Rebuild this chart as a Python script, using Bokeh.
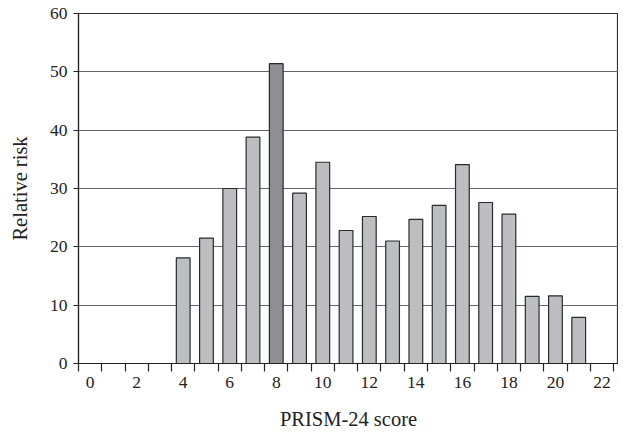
from bokeh.plotting import figure
from bokeh.models import FixedTicker, ColumnDataSource, Range1d
from bokeh.embed import file_html
from bokeh.resources import INLINE

# Data
scores = [4, 5, 6, 7, 8, 9, 10, 11, 12, 13, 14, 15, 16, 17, 18, 19, 20, 21]
relative_risk = [18.1, 21.5, 30.0, 38.8, 51.4, 29.2, 34.5, 22.8, 25.2, 21.0,
                 24.7, 27.1, 34.1, 27.6, 25.6, 11.5, 11.6, 7.9]
highlight_score = 8
x_tick_labels = [0, 2, 4, 6, 8, 10, 12, 14, 16, 18, 20, 22]
y_ticks = [0, 10, 20, 30, 40, 50, 60]

LIGHT = "#bdbec2"
DARK = "#8e8f93"
fills = [DARK if s == highlight_score else LIGHT for s in scores]

src = ColumnDataSource(dict(x=scores, top=relative_risk, fill=fills))

FONT = "Liberation Serif"

p = figure(width=618, height=433, output_backend="svg", toolbar_location=None,
           x_range=Range1d(-0.5, 22.71), y_range=Range1d(0, 60),
           min_border_left=78, min_border_right=0, min_border_top=13,
           min_border_bottom=70)

p.vbar(x="x", top="top", bottom=0, width=0.59, source=src,
       fill_color="fill", line_color="#2a2a2a", line_width=1.2)

p.background_fill_color = "white"
p.border_fill_color = "white"
p.outline_line_color = "#333333"
p.outline_line_width = 1.2

# x axis: labels at even categories, ticks at category boundaries
p.xaxis.ticker = FixedTicker(ticks=x_tick_labels,
                             minor_ticks=[i - 0.5 for i in range(24)])
p.xaxis.major_tick_line_color = None
p.xaxis.major_tick_out = 8
p.xaxis.major_tick_in = 0
p.xaxis.minor_tick_out = 8
p.xaxis.minor_tick_in = 0
p.xaxis.minor_tick_line_color = "#222222"
p.xaxis.minor_tick_line_width = 1.2
p.xaxis.major_label_standoff = 5
p.xaxis.axis_label = "PRISM-24 score"
p.xaxis.axis_label_standoff = 17

# y axis
p.yaxis.ticker = FixedTicker(ticks=y_ticks)
p.yaxis.major_tick_out = 5
p.yaxis.major_tick_in = 0
p.yaxis.minor_tick_line_color = None
p.yaxis.major_label_standoff = 6
p.yaxis.axis_label = "Relative risk"
p.yaxis.axis_label_standoff = 16

for ax in (p.xaxis, p.yaxis):
    ax.axis_line_color = "#222222"
    ax.axis_line_width = 1.2
    ax.major_tick_line_width = 1.2
    ax.major_label_text_font = FONT
    ax.major_label_text_font_size = "17.5px"
    ax.major_label_text_color = "#222222"
    ax.axis_label_text_font = FONT
    ax.axis_label_text_font_size = "20.5px"
    ax.axis_label_text_font_style = "normal"
    ax.axis_label_text_color = "#222222"
p.yaxis.major_tick_line_color = "#222222"

p.xgrid.grid_line_color = None
p.ygrid.ticker = FixedTicker(ticks=y_ticks)
p.ygrid.grid_line_color = "#666666"
p.ygrid.grid_line_width = 1.0

open("out.html", "w").write(file_html(p, INLINE))
